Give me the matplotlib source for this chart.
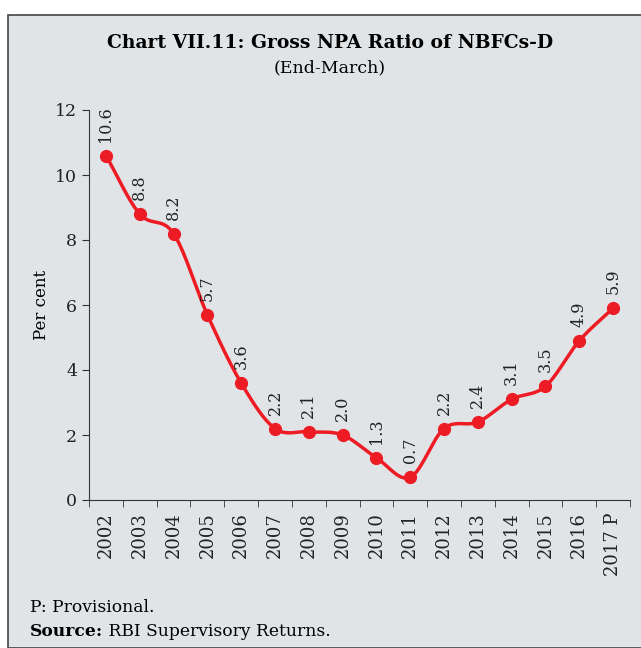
import numpy as np
import matplotlib.pyplot as plt
from matplotlib.patches import Rectangle

years = ["2002", "2003", "2004", "2005", "2006", "2007", "2008", "2009",
         "2010", "2011", "2012", "2013", "2014", "2015", "2016", "2017 P"]
npa = [10.6, 8.8, 8.2, 5.7, 3.6, 2.2, 2.1, 2.0, 1.3, 0.7, 2.2, 2.4, 3.1, 3.5, 4.9, 5.9]

plt.rcParams['font.family'] = ['DejaVu Serif']
red = "#ed1c24"
bg = "#e1e4e7"


def smooth(x, y, n=20):
    # catmull-rom curve through the points (like excel's smoothed line)
    x = np.asarray(x, float)
    y = np.asarray(y, float)
    px = np.concatenate([[2 * x[0] - x[1]], x, [2 * x[-1] - x[-2]]])
    py = np.concatenate([[2 * y[0] - y[1]], y, [2 * y[-1] - y[-2]]])
    xs, ys = [], []
    t = np.linspace(0, 1, n)
    for i in range(1, len(px) - 2):
        for p, out in ((px, xs), (py, ys)):
            p0, p1, p2, p3 = p[i - 1], p[i], p[i + 1], p[i + 2]
            out.extend(0.5 * ((2 * p1) + (-p0 + p2) * t
                              + (2 * p0 - 5 * p1 + 4 * p2 - p3) * t ** 2
                              + (-p0 + 3 * p1 - 3 * p2 + p3) * t ** 3))
    return xs, ys


fig = plt.figure(figsize=(6.41, 6.48), dpi=100)
fig.patch.set_facecolor("white")
fig.patches.append(Rectangle((8 / 641, 0), 1, 1 - 15 / 648, transform=fig.transFigure,
                             facecolor=bg, edgecolor="#444444", linewidth=1.2, zorder=-5))

ax = fig.add_axes([89 / 641, 1 - 500 / 648, (630 - 89) / 641, 390 / 648])
ax.patch.set_alpha(0)

x = np.arange(len(years))
sx, sy = smooth(x, npa)
ax.plot(sx, sy, color=red, linewidth=2.5, zorder=3, clip_on=False)
ax.plot(x, npa, "o", color=red, markersize=8.5, zorder=4, clip_on=False)

for xi, v in zip(x, npa):
    ax.annotate(f"{v:.1f}", (xi, v), xytext=(0, 10), textcoords="offset points",
                rotation=90, ha="center", va="bottom", fontsize=11.5, color="#222222")

ax.set_xlim(-0.5, len(years) - 0.5)
ax.set_ylim(0, 12)
ax.set_yticks([0, 2, 4, 6, 8, 10, 12])
ax.set_xticks(x)
ax.set_xticklabels(years, rotation=90, fontsize=13, color="#222222")
ax.set_xticks(np.arange(-0.5, len(years)), minor=True)
ax.tick_params(axis="x", which="major", length=0, pad=9)
ax.tick_params(axis="x", which="minor", length=5, color="#333333")
ax.tick_params(axis="y", length=5, labelsize=12.5, color="#333333", labelcolor="#222222")
for s in ["top", "right"]:
    ax.spines[s].set_visible(False)
for s in ["left", "bottom"]:
    ax.spines[s].set_color("#333333")
ax.set_ylabel("Per cent", fontsize=12, labelpad=4)

fig.text(0.515, 1 - 43 / 648, "Chart VII.11: Gross NPA Ratio of NBFCs-D", ha="center", va="center",
         fontsize=13.5, fontweight="bold")
fig.text(0.515, 1 - 68 / 648, "(End-March)", ha="center", va="center", fontsize=12.5)
fig.text(30 / 641, 1 - 607 / 648, "P: Provisional.", ha="left", va="center", fontsize=12.3)
src = fig.text(30 / 641, 1 - 632 / 648, "Source:", ha="left", va="center", fontsize=12.3,
               fontweight="bold")
ax.annotate(" RBI Supervisory Returns.", xy=(1, 0.5), xycoords=src, ha="left", va="center",
            fontsize=12.3, annotation_clip=False)

fig.savefig("out.png", dpi=100, facecolor=fig.get_facecolor())
